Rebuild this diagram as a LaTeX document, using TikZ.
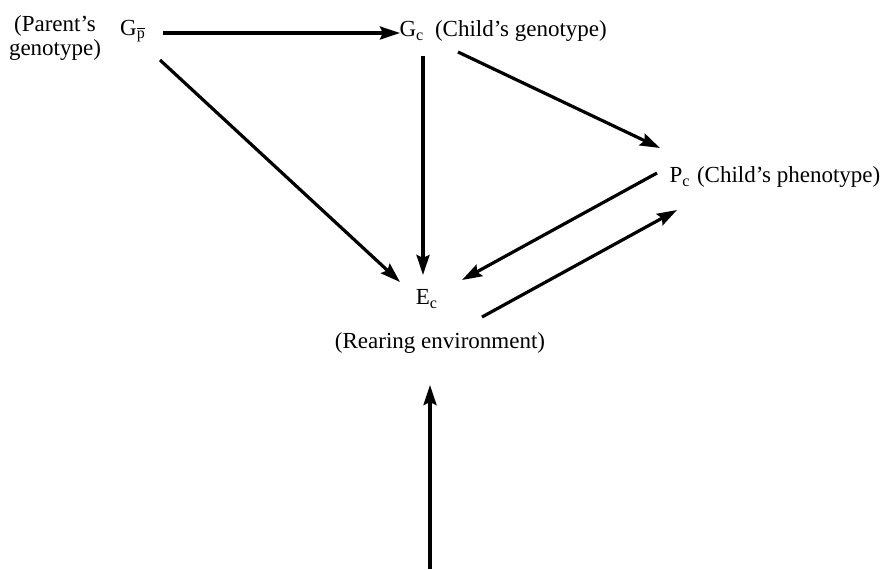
\documentclass[tikz,border=0pt]{standalone}
\usepackage{fontspec}
\setmainfont{Liberation Serif}
\usetikzlibrary{arrows.meta}

\tikzset{
  var/.style={inner sep=0pt, outer sep=0pt},
  lbl/.style={inner sep=0pt, outer sep=0pt, anchor=west},
  arr/.style={line width=1.6pt, -{Stealth[length=10pt, width=6.5pt, inset=1.5pt]}}
}

\begin{document}
\begin{tikzpicture}[x=0.5pt, y=-0.5pt, font=\fontsize{11.5}{12}\selectfont]
			\useasboundingbox (0,0) rectangle (892,569);

			% Define nodes with their coordinates
			\node[var, align=center] (Par) at (55, 38) {(Parent's\\genotype)};
			\node[var] (Gp) at (133, 31) {G\textsubscript{$\overline{\mbox{p}}$}};
			\node[var] (Gc) at (412, 31) {G\textsubscript{c}};
			\node[lbl] (GcTxt) at (435, 31) {(Child's genotype)};
			\node[var] (Pc) at (680, 177) {P\textsubscript{c}};
			\node[lbl] (PcTxt) at (697, 177) {(Child's phenotype)};
			\node[var] (Ec) at (427, 299) {E\textsubscript{c}};
			\node[var] (Rear) at (440, 343) {(Rearing environment)};
			\coordinate (Src) at (430, 569);

			% Draw edges with arrows
			\draw[arr] ([shift={(30,2)}]Gp.center) -- ([shift={(-12,2)}]Gc.center);
			\draw[arr] ([shift={(27,29)}]Gp.center) -- ([shift={(-27,-17)}]Ec.center);
			\draw[arr] ([shift={(11,25)}]Gc.center) -- ([shift={(-4,-24)}]Ec.center);
			\draw[arr] ([shift={(46,21)}]Gc.center) -- ([shift={(-20,-29)}]Pc.center);
			\draw[arr] ([shift={(-23,-4)}]Pc.center) -- ([shift={(35,-19)}]Ec.center);
			\draw[arr] ([shift={(55,18)}]Ec.center) -- ([shift={(-3,33)}]Pc.center);
			\draw[arr] (Src) -- ([shift={(-10,42)}]Rear.center);

		\end{tikzpicture}
\end{document}
